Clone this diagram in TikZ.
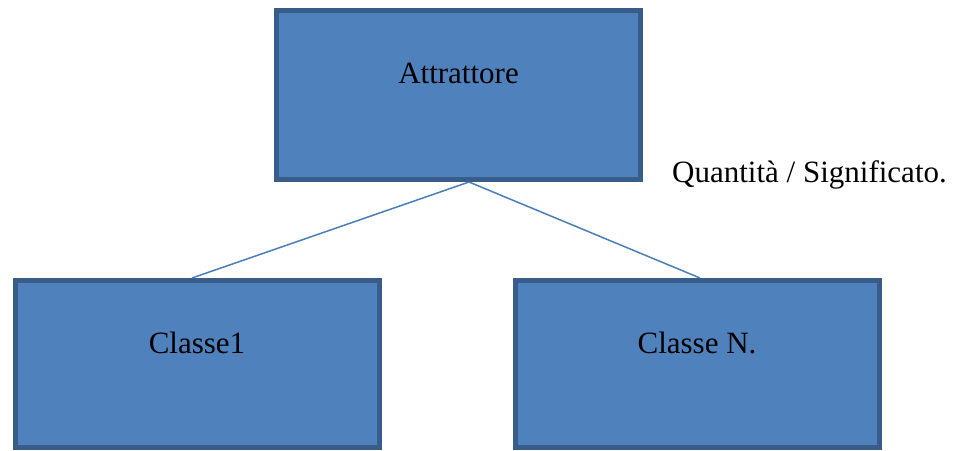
\documentclass[tikz,border=0pt]{standalone}
\usepackage{fontspec}
\setmainfont{Liberation Serif}
\usetikzlibrary{positioning}
\definecolor{boxfill}{HTML}{4F81BD}
\definecolor{boxline}{HTML}{385D8A}
\definecolor{linkline}{HTML}{4A7EBB}

\begin{document}
\begin{tikzpicture}[x=1pt,y=-1pt,
                    box/.style={rectangle,draw=boxline,fill=boxfill,line width=5pt,
                                inner sep=0pt,minimum width=364pt,text height=72.5pt,
                                font=\fontsize{31}{37}\selectfont},
                    link/.style={draw=linkline,line width=1.5pt}]

  \useasboundingbox (0,0) rectangle (956,450);

  \node[box,text depth=96.5pt,anchor=north] (attr) at (458.5,8)   {Attrattore};
  \node[box,text depth=94.5pt,anchor=north] (c1)   at (197,278)   {Classe1};
  \node[box,text depth=94.5pt,anchor=north] (cn)   at (697,278)   {Classe N.};
  \node[anchor=base,font=\fontsize{31}{37}\selectfont] (qs) at (809.5,182) {Quantità / Significato.};

  \path[link] ([xshift=10.5pt]attr.south) edge ([xshift=-5pt]c1.north)
                                          edge ([xshift=3pt]cn.north);
\end{tikzpicture}
\end{document}
